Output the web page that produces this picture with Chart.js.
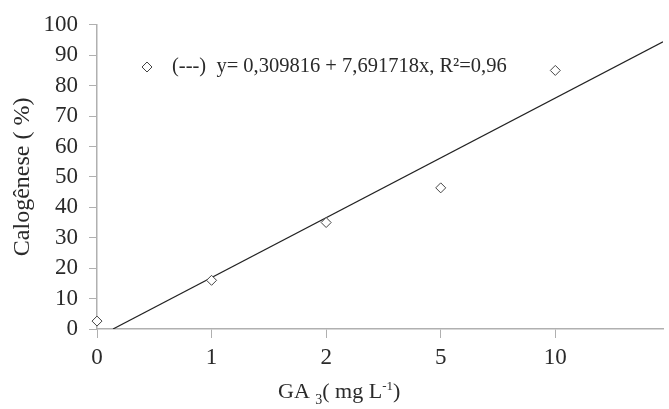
<!DOCTYPE html>
<html>
<head>
<meta charset="utf-8">
<script src="https://cdn.jsdelivr.net/npm/chart.js@4"></script>
<style>
  body { margin: 0; background: #fff; }
  canvas { display: block; }
</style>
</head>
<body>
<canvas id="chart" width="669" height="409"></canvas>
<script>
// Dados
const doses = ['0', '1', '2', '5', '10'];          // GA3 (mg L-1), eixo categórico
const doseIndex = [0, 1, 2, 3, 4];
const calogenese = [2.6, 16, 35, 46.4, 85];         // % observada
const trendX = [0.14, 4.94];                         // reta ajustada (posições do eixo)
const trendY = [0, 94.4];
const yTicks = [0, 10, 20, 30, 40, 50, 60, 70, 80, 90, 100];
const legendText = '(---)  y= 0,309816 + 7,691718x, R\u00b2=0,96';

const axisColor = '#b0b0b0';
const textColor = '#2a2a2a';
const serif = '"Liberation Serif", "Times New Roman", serif';

// Legenda e título do eixo x desenhados à mão
const legendPlugin = {
  id: 'eqLegend',
  afterDraw(chart) {
    const ctx = chart.ctx;
    const x0 = 147, y0 = 67;
    ctx.save();
    ctx.strokeStyle = '#444';
    ctx.lineWidth = 1;
    ctx.fillStyle = '#fff';
    ctx.beginPath();
    ctx.moveTo(x0, y0 - 5);
    ctx.lineTo(x0 + 5, y0);
    ctx.lineTo(x0, y0 + 5);
    ctx.lineTo(x0 - 5, y0);
    ctx.closePath();
    ctx.fill();
    ctx.stroke();
    ctx.fillStyle = textColor;
    ctx.font = '20.5px ' + serif;
    ctx.textBaseline = 'middle';
    ctx.fillText(legendText, 172, y0);

    // GA 3( mg L-1)
    const parts = [
      ['GA ', 22, 0], ['3', 14, 6], ['( mg L', 22, 0], ['-1', 13, -8], [')', 22, 0]
    ];
    ctx.textBaseline = 'alphabetic';
    let x = 278;
    const base = 398;
    parts.forEach(([t, size, dy]) => {
      ctx.font = size + 'px ' + serif;
      ctx.fillText(t, x, base + dy);
      x += ctx.measureText(t).width;
    });
    ctx.restore();
  }
};

new Chart(document.getElementById('chart'), {
  type: 'scatter',
  data: {
    datasets: [
      {
        label: 'Calogênese',
        data: doseIndex.map((x, i) => ({ x, y: calogenese[i] })),
        pointStyle: 'rectRot',
        pointRadius: 5,
        pointBackgroundColor: '#fff',
        pointBorderColor: '#444',
        pointBorderWidth: 1,
        showLine: false,
        clip: false
      },
      {
        label: 'Ajuste',
        data: trendX.map((x, i) => ({ x, y: trendY[i] })),
        showLine: true,
        borderColor: '#222',
        borderWidth: 1.2,
        pointRadius: 0
      }
    ]
  },
  plugins: [legendPlugin],
  options: {
    responsive: false,
    animation: false,
    layout: { padding: { top: 23, right: 0, left: 0, bottom: 0 } },
    plugins: { legend: { display: false }, tooltip: { enabled: false } },
    scales: {
      x: {
        type: 'linear',
        min: 0,
        max: 4.94,
        afterBuildTicks: axis => { axis.ticks = doseIndex.map(v => ({ value: v })); },
        afterFit: axis => { axis.height = 80; },
        ticks: {
          color: textColor,
          font: { family: serif, size: 23 },
          padding: 6,
          autoSkip: false,
          maxRotation: 0,
          callback: v => doses[v]
        },
        grid: { drawOnChartArea: false, color: axisColor, tickLength: 9 },
        border: { color: axisColor, width: 1.5 }
      },
      y: {
        min: 0,
        max: 100,
        afterBuildTicks: axis => { axis.ticks = yTicks.map(v => ({ value: v })); },
        afterFit: axis => { axis.width = 97; },
        ticks: {
          color: textColor,
          font: { family: serif, size: 23 },
          padding: 11,
          autoSkip: false
        },
        grid: { drawOnChartArea: false, color: axisColor, tickLength: 8 },
        border: { color: axisColor, width: 1.5 },
        title: {
          display: true,
          text: 'Calogênese ( %)',
          color: textColor,
          font: { family: serif, size: 24 },
          padding: { top: 8, bottom: 0 }
        }
      }
    }
  }
});
</script>
</body>
</html>
